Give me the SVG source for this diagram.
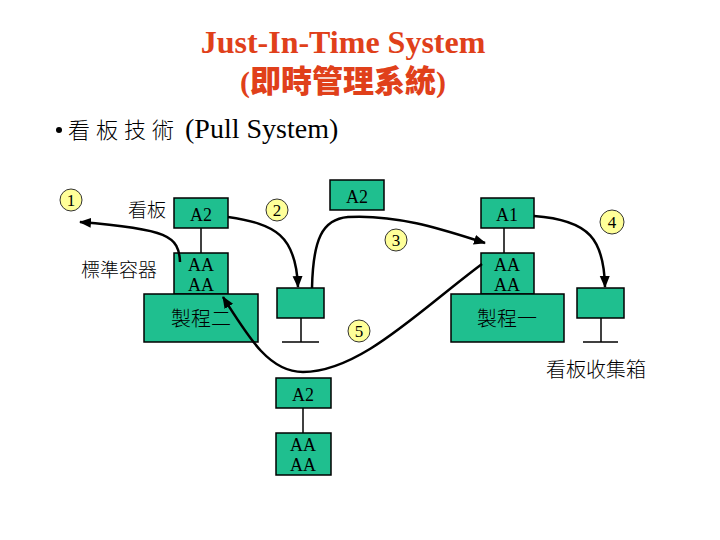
<svg xmlns="http://www.w3.org/2000/svg" width="720" height="540" viewBox="0 0 720 540">
<style>
.box{fill:#1fbf8f;stroke:#000;stroke-width:1.5}
.ln{stroke:#000;stroke-width:1.5;fill:none}
.t{font-family:"Liberation Serif","Times New Roman",serif;fill:#000}
.cjk{font-family:"Noto Sans CJK TC","Noto Sans CJK SC",sans-serif;font-weight:300;fill:#000}
.num{fill:#ffff99;stroke:#333;stroke-width:1}
.arr{fill:none;stroke:#000;stroke-width:2.5;marker-end:url(#ah)}
.title{font-family:"Liberation Serif","Times New Roman",serif;font-weight:bold;fill:#e0401a}
</style>
<defs>
<marker id="ah" markerUnits="userSpaceOnUse" markerWidth="14" markerHeight="12" refX="11" refY="5" orient="auto">
<path d="M0,0 L12,5 L0,10 Z" fill="#000"/>
</marker>
</defs>
<rect width="720" height="540" fill="#fff"/>
<g id="title">
<text class="title" x="343" y="53" text-anchor="middle" font-size="32">Just-In-Time System</text>
<text class="title" x="343" y="92" text-anchor="middle" font-size="30">(<tspan font-family="'Noto Sans CJK TC','Noto Sans CJK SC',sans-serif" font-weight="900" font-size="31">即時管理系統</tspan>)</text>
</g>
<g id="bullet">
<circle cx="59" cy="130" r="3" fill="#000"/>
<text class="cjk" x="68" y="138" font-size="22" letter-spacing="6">看板技術</text>
<text class="t" x="185" y="138" font-size="28">(Pull System)</text>
</g>
<g id="labels">
<text class="cjk" x="128" y="217" font-size="19">看板</text>
<text class="cjk" x="81" y="277" font-size="19">標準容器</text>
<text class="cjk" x="546" y="377" font-size="20">看板收集箱</text>
</g>
<g id="proc2">
<line class="ln" x1="201" y1="228" x2="201" y2="253"/>
<rect class="box" x="174" y="198" width="54" height="30"/>
<text class="t" x="201" y="221" text-anchor="middle" font-size="18">A2</text>
<rect class="box" x="174" y="253" width="54" height="41"/>
<text class="t" x="201" y="271" text-anchor="middle" font-size="18">AA</text>
<text class="t" x="201" y="291" text-anchor="middle" font-size="18">AA</text>
<rect class="box" x="144" y="294" width="114" height="48"/>
<text class="cjk" x="201" y="326" text-anchor="middle" font-size="20">製程二</text>
</g>
<g id="post1">
<rect class="box" x="277" y="288" width="47" height="30"/>
<line class="ln" x1="301" y1="318" x2="301" y2="342"/>
<line class="ln" x1="282" y1="342" x2="319" y2="342"/>
</g>
<g id="a2top">
<rect class="box" x="330" y="180" width="54" height="30"/>
<text class="t" x="357" y="203" text-anchor="middle" font-size="18">A2</text>
</g>
<g id="proc1">
<line class="ln" x1="504" y1="228" x2="504" y2="253"/>
<rect class="box" x="481" y="198" width="53" height="30"/>
<text class="t" x="507" y="221" text-anchor="middle" font-size="18">A1</text>
<rect class="box" x="481" y="253" width="53" height="41"/>
<text class="t" x="507" y="271" text-anchor="middle" font-size="18">AA</text>
<text class="t" x="507" y="291" text-anchor="middle" font-size="18">AA</text>
<rect class="box" x="451" y="294" width="113" height="48"/>
<text class="cjk" x="507" y="326" text-anchor="middle" font-size="20">製程一</text>
</g>
<g id="post2">
<rect class="box" x="577" y="288" width="47" height="30"/>
<line class="ln" x1="601" y1="318" x2="601" y2="342"/>
<line class="ln" x1="583" y1="342" x2="618" y2="342"/>
</g>
<g id="bottom">
<line class="ln" x1="303" y1="408" x2="303" y2="433"/>
<rect class="box" x="276" y="378" width="55" height="30"/>
<text class="t" x="303" y="401" text-anchor="middle" font-size="18">A2</text>
<rect class="box" x="276" y="433" width="55" height="42"/>
<text class="t" x="303" y="451" text-anchor="middle" font-size="18">AA</text>
<text class="t" x="303" y="471" text-anchor="middle" font-size="18">AA</text>
</g>
<g id="connectors">
<path class="arr" d="M180,262 C179,236 168,229 80,222"/>
<path class="arr" d="M228,217 C275,224 296,235 298,287"/>
<path class="arr" d="M312,288 C313,240 322,219 348,217 C400,214 450,232 485,243"/>
<path class="arr" d="M534,216 C590,220 604,240 605,287"/>
<path class="arr" d="M482,264 C420,310 360,372 303,372 C270,372 250,340 223,297"/>
</g>
<g id="numbers">
<circle class="num" cx="71" cy="200" r="11"/>
<text class="t" x="71" y="206" text-anchor="middle" font-size="17">1</text>
<circle class="num" cx="277" cy="210" r="11"/>
<text class="t" x="277" y="216" text-anchor="middle" font-size="17">2</text>
<circle class="num" cx="396" cy="240" r="11"/>
<text class="t" x="396" y="246" text-anchor="middle" font-size="17">3</text>
<circle class="num" cx="612" cy="222" r="12"/>
<text class="t" x="612" y="228" text-anchor="middle" font-size="17">4</text>
<circle class="num" cx="359" cy="331" r="11"/>
<text class="t" x="359" y="337" text-anchor="middle" font-size="17">5</text>
</g>
</svg>
